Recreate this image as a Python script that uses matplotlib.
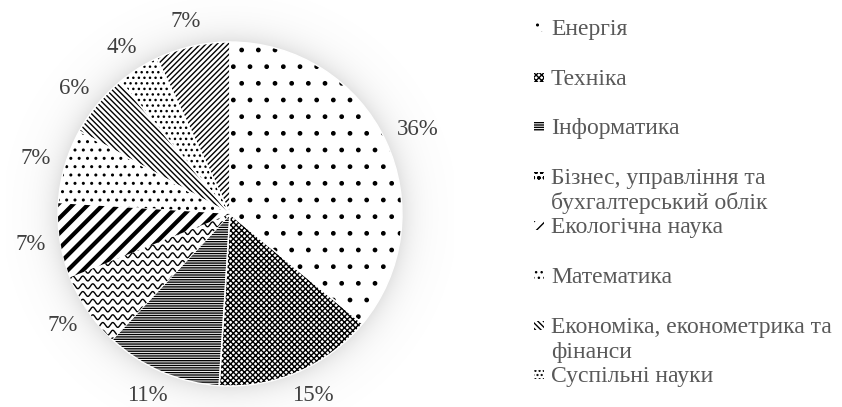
import numpy as np
import matplotlib
matplotlib.use('Agg')
import matplotlib.pyplot as plt
from matplotlib.patches import Rectangle

plt.rcParams['font.family'] = ['Liberation Serif', 'DejaVu Serif']

# Data
categories = ['Енергія', 'Техніка', 'Інформатика',
              'Бізнес, управління та\nбухгалтерський облік',
              'Екологічна наука', 'Математика',
              'Економіка, економетрика та\nфінанси',
              'Суспільні науки', 'Інше']
shares = [36, 15, 11, 7, 7, 7, 6, 4, 7]
hatches = ['.', 'xxxxxx', '-' * 7, '', '', '..', '\\' * 6, '...', '/' * 6]
legend_hatches = ['..', 'xxxxxx', '-' * 7, 'ooo', '///', '...', '\\' * 6, '....']

W, H = 842, 407
fig = plt.figure(figsize=(W / 100, H / 100), dpi=100)
cx, cy, R = 230, 214, 172
ax = fig.add_axes([(cx - R) / W, (H - cy - R) / H, 2 * R / W, 2 * R / H])

# soft shadow around the pie
g = np.linspace(-1.3, 1.3, 400)
gx, gy = np.meshgrid(g, g)
rr = np.hypot(gx, gy)
alpha = np.where(rr >= 0.97, 0.33 * np.exp(-(rr - 0.97) / 0.08), 0)
glow = np.zeros(rr.shape + (4,))
glow[..., :3] = 0.5
glow[..., 3] = alpha
ax.imshow(glow, extent=(-1.3, 1.3, -1.3, 1.3), zorder=0, clip_on=False,
          interpolation='bilinear')

wedges, _, autotexts = ax.pie(
    shares, startangle=90, counterclock=False, colors=['white'] * len(shares),
    hatch=hatches, autopct='%.0f%%', pctdistance=1.2,
    wedgeprops=dict(edgecolor='black', linewidth=0),
    textprops=dict(fontsize=16.5, color='#404040'))
for w in wedges:
    w.set_zorder(1)

# wavy pattern for "Бізнес" and thick stripes for "Екологічна наука"
xs = np.linspace(-1.05, 1.05, 800)
for y0 in np.arange(-1.05, 1.05, 0.045):
    ln, = ax.plot(xs, y0 + 0.014 * np.sin(xs * 2 * np.pi / 0.058),
                  color='black', lw=1.0, zorder=2)
    ln.set_clip_path(wedges[3])
for c in np.arange(-2.2, 2.2, 0.088):
    ln, = ax.plot(xs, xs + c, color='black', lw=3.0, zorder=2,
                  solid_capstyle='butt')
    ln.set_clip_path(wedges[4])

# white separators
ax.pie(shares, startangle=90, counterclock=False,
       wedgeprops=dict(fill=False, edgecolor='white', linewidth=1.0))
ax.set_xlim(-1, 1)
ax.set_ylim(-1, 1)
ax.set_aspect('equal')
ax.axis('off')

# place labels just outside the pie edge (outside-end style)
fig.canvas.draw()
renderer = fig.canvas.get_renderer()
ctr = ax.transData.transform((0, 0))
rad = ax.transData.transform((1, 0))[0] - ctr[0]
for w, t in zip(wedges, autotexts):
    ang = np.deg2rad((w.theta1 + w.theta2) / 2)
    u = np.array([np.cos(ang), np.sin(ang)])
    bb = t.get_window_extent(renderer)
    p = ctr + (rad + 15) * u + u * np.array([bb.width, bb.height]) / 2
    t.set_position(ax.transData.inverted().transform(p))
    t.set_ha('center')
    t.set_va('center')

# legend (first 8 entries shown, as in the original)
for i, (lab, hp) in enumerate(zip(categories[:8], legend_hatches)):
    yc = 27 + i * 49.6
    fig.add_artist(Rectangle((534 / W, (H - yc - 5) / H), 10 / W, 9 / H,
                             transform=fig.transFigure, facecolor='white',
                             edgecolor='black', linewidth=0, hatch=hp))
    for j, line in enumerate(lab.split('\n')):
        fig.text(551 / W, (H - yc - 8 - 25 * j) / H, line, fontsize=17,
                 color='#595959', ha='left', va='baseline')

fig.savefig('out.png', dpi=100)
